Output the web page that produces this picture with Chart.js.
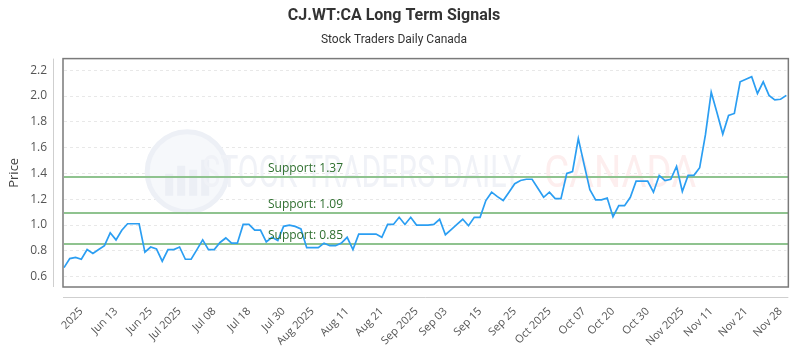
<!DOCTYPE html>
<html>
<head>
<meta charset="utf-8">
<script src="https://cdn.jsdelivr.net/npm/chart.js@4.4.1/dist/chart.umd.min.js"></script>
<style>
  html, body { margin: 0; padding: 0; background: #fff; }
</style>
</head>
<body>
<canvas id="chart" width="800" height="350"></canvas>
<script>
// closing prices, one per trading day
var prices = [
  0.67, 0.74, 0.75, 0.735, 0.81, 0.78, 0.81, 0.84, 0.94, 0.885,
  0.96, 1.01, 1.01, 1.01, 0.79, 0.83, 0.815, 0.72, 0.81, 0.81,
  0.83, 0.735, 0.735, 0.81, 0.885, 0.81, 0.81, 0.865, 0.90, 0.86,
  0.86, 1.005, 1.005, 0.96, 0.96, 0.87, 0.905, 0.88, 0.99, 1.0,
  0.99, 0.97, 0.825, 0.825, 0.825, 0.86, 0.84, 0.84, 0.86, 0.905,
  0.81, 0.93, 0.93, 0.93, 0.93, 0.905, 1.005, 1.005, 1.06, 1.005,
  1.06, 1.0, 1.0, 1.0, 1.005, 1.045, 0.925, 0.965, 1.005, 1.045,
  0.995, 1.06, 1.06, 1.19, 1.255, 1.22, 1.19, 1.255, 1.32, 1.345,
  1.355, 1.355, 1.285, 1.215, 1.255, 1.205, 1.205, 1.40, 1.415, 1.67,
  1.47, 1.275, 1.195, 1.195, 1.21, 1.065, 1.15, 1.15, 1.215, 1.34,
  1.34, 1.34, 1.255, 1.385, 1.345, 1.355, 1.455, 1.26, 1.385, 1.385,
  1.445, 1.70, 2.03, 1.87, 1.705, 1.85, 1.865, 2.11, 2.13, 2.15,
  2.02, 2.11, 2.005, 1.97, 1.975, 2.005
];

var supportLevels = [1.37, 1.09, 0.85];

var yTicks = [0.6, 0.8, 1.0, 1.2, 1.4, 1.6, 1.8, 2.0, 2.2];

var tickIndex = [3, 9, 15, 20, 26, 32, 38, 43, 49, 55, 61, 66, 72, 78, 84, 90, 95, 101, 107, 112, 118, 124];
var tickText = [
  "2025", "Jun 13", "Jun 25", "Jul 2025", "Jul 08", "Jul 18", "Jul 30",
  "Aug 2025", "Aug 11", "Aug 21", "Sep 2025", "Sep 03", "Sep 15", "Sep 25",
  "Oct 2025", "Oct 07", "Oct 20", "Oct 30", "Nov 2025", "Nov 11", "Nov 21", "Nov 28"
];

// trading days (weekdays) ending Nov 28 2025
var dates = [];
var d = new Date(Date.UTC(2025, 10, 28));
while (dates.length < prices.length) {
  var wd = d.getUTCDay();
  if (wd !== 0 && wd !== 6) dates.unshift(d.toISOString().slice(0, 10));
  d.setUTCDate(d.getUTCDate() - 1);
}

// faint logo + text behind the line
var watermark = {
  id: "watermark",
  beforeDatasetsDraw: function (chart) {
    var ctx = chart.ctx, a = chart.chartArea;
    var cx = (a.left + a.right) / 2, cy = (a.top + a.bottom) / 2;
    ctx.save();
    // logo
    var lx = cx - 238, ly = cy - 1;
    ctx.beginPath();
    ctx.arc(lx, ly, 40, 0, Math.PI * 2);
    ctx.fillStyle = "#f6f8fb";
    ctx.fill();
    ctx.lineWidth = 5;
    ctx.strokeStyle = "#edf0f6";
    ctx.stroke();
    ctx.fillStyle = "#eceff5";
    ctx.fillRect(lx - 22, ly + 2, 8, 22);
    ctx.fillRect(lx - 10, ly - 6, 8, 30);
    ctx.fillRect(lx + 2, ly - 2, 8, 26);
    ctx.fillRect(lx + 14, ly - 12, 8, 36);
    // text
    ctx.font = "44px Roboto";
    ctx.textBaseline = "middle";
    ctx.textAlign = "left";
    var t1 = "STOCK TRADERS DAILY", t2 = "CANADA";
    var w1 = ctx.measureText(t1).width, w2 = ctx.measureText(t2).width;
    ctx.save();
    ctx.translate(cx - 223, cy + 3);
    ctx.scale(319 / w1, 1);
    ctx.fillStyle = "#f0f2f7";
    ctx.fillText(t1, 0, 0);
    ctx.restore();
    ctx.save();
    ctx.translate(cx + 119, cy + 3);
    ctx.scale(152 / w2, 1);
    ctx.fillStyle = "#fdeeee";
    ctx.fillText(t2, 0, 0);
    ctx.restore();
    ctx.restore();
  }
};

// box round the plot area, offset axis lines, support levels
var frame = {
  id: "frame",
  beforeDatasetsDraw: function (chart) {
    var ctx = chart.ctx, a = chart.chartArea, y = chart.scales.y;
    ctx.save();
    // support lines
    ctx.strokeStyle = "#8fc38f";
    ctx.lineWidth = 2;
    supportLevels.forEach(function (lvl) {
      var py = Math.round(y.getPixelForValue(lvl));
      ctx.beginPath();
      ctx.moveTo(a.left, py);
      ctx.lineTo(a.right + 2, py);
      ctx.stroke();
    });
    ctx.restore();
  },
  afterDatasetsDraw: function (chart) {
    var ctx = chart.ctx, a = chart.chartArea, y = chart.scales.y;
    ctx.save();
    ctx.font = "12px 'Open Sans'";
    ctx.fillStyle = "#2f6f2f";
    ctx.textAlign = "left";
    ctx.textBaseline = "bottom";
    supportLevels.forEach(function (lvl) {
      var py = y.getPixelForValue(lvl);
      ctx.fillText("Support: " + lvl.toFixed(2), a.left + 204, py - 3);
    });
    // plot box
    ctx.strokeStyle = "#7a7a7a";
    ctx.lineWidth = 1.5;
    ctx.strokeRect(a.left - 1, a.top, a.right - a.left + 3, a.bottom - a.top);
    // axis lines set off from the box
    ctx.strokeStyle = "#cfcfcf";
    ctx.lineWidth = 1;
    ctx.beginPath();
    ctx.moveTo(a.left - 10.5, a.top);
    ctx.lineTo(a.left - 10.5, a.bottom);
    ctx.moveTo(a.left - 1, a.bottom + 10.5);
    ctx.lineTo(a.right + 2, a.bottom + 10.5);
    ctx.stroke();
    ctx.restore();
  }
};

var ctx = document.getElementById("chart").getContext("2d");

var chart = new Chart(ctx, {
  type: "line",
  data: {
    labels: dates,
    datasets: [
      {
        label: "CJ.WT:CA",
        data: prices,
        borderColor: "#2b9ef2",
        borderWidth: 1.7,
        pointRadius: 0,
        tension: 0,
        fill: false
      }
    ]
  },
  plugins: [watermark, frame],
  options: {
    responsive: false,
    animation: false,
    layout: { padding: { left: 0, right: 12, top: 0, bottom: 0 } },
    plugins: {
      legend: { display: false },
      tooltip: { enabled: false },
      title: {
        display: true,
        text: "CJ.WT:CA Long Term Signals",
        color: "#333",
        font: { family: "Roboto", size: 16, weight: "bold" },
        padding: { top: 6, bottom: 4 }
      },
      subtitle: {
        display: true,
        text: "Stock Traders Daily Canada",
        color: "#333",
        font: { family: "Roboto", size: 12 },
        padding: { top: 4, bottom: 11 }
      }
    },
    scales: {
      x: {
        grid: { display: false },
        border: { display: false },
        afterBuildTicks: function (s) {
          s.ticks = tickIndex.map(function (i) { return { value: i }; });
        },
        afterFit: function (s) { s.height = 63; },
        ticks: {
          autoSkip: false,
          minRotation: 45,
          maxRotation: 45,
          padding: 10,
          color: "#555",
          font: { family: "Open Sans", size: 11 },
          callback: function (v) { return tickText[tickIndex.indexOf(v)]; }
        }
      },
      y: {
        min: 0.52,
        max: 2.29,
        border: { display: false },
        grid: { color: "#e8e8e8", drawTicks: false },
        afterBuildTicks: function (s) {
          s.ticks = yTicks.map(function (v) { return { value: v }; });
        },
        afterFit: function (s) { s.width = 64; },
        title: {
          display: true,
          text: "Price",
          color: "#444",
          font: { family: "Open Sans", size: 13 },
          padding: { top: 6, bottom: 0 }
        },
        ticks: {
          padding: 17,
          color: "#555",
          font: { family: "Open Sans", size: 12 },
          callback: function (v) { return Number(v).toFixed(1); }
        }
      }
    }
  }
});
chart.options.scales.y.grid.borderDash = [3, 3];
chart.options.scales.y.border.dash = [3, 3];
chart.update();
</script>
</body>
</html>
